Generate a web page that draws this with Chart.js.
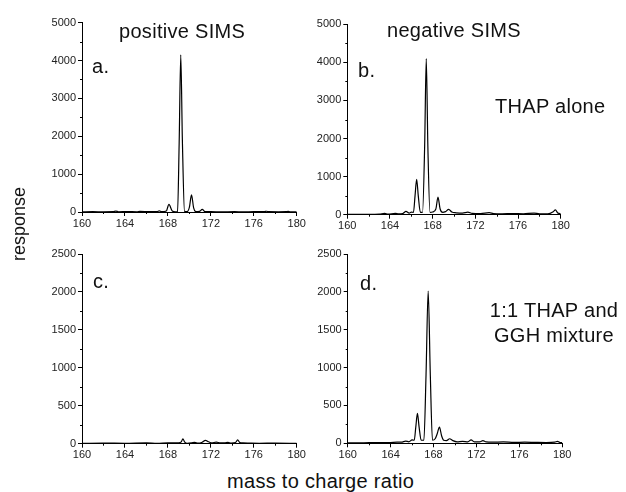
<!DOCTYPE html>
<html>
<head>
<meta charset="utf-8">
<script src="https://cdn.jsdelivr.net/npm/chart.js@4/dist/chart.umd.min.js"></script>
<style>
  body { margin: 0; background: #fff; }
  #wrap { position: relative; width: 626px; height: 492px; overflow: hidden; background: #fff; }
  canvas { position: absolute; }
  .t { position: absolute; font-family: "Liberation Sans", Arial, sans-serif; font-size: 20px; line-height: 20px; color: #111; white-space: nowrap; letter-spacing: 0.3px; }
</style>
</head>
<body>
<div id="wrap">
  <canvas id="pa" width="310" height="235" style="left:0px;top:0px"></canvas>
  <canvas id="pb" width="275" height="238" style="left:300px;top:0px"></canvas>
  <canvas id="pc" width="310" height="227" style="left:0px;top:240px"></canvas>
  <canvas id="pd" width="276" height="227" style="left:300px;top:240px"></canvas>

  <div class="t" style="left:119px;top:21px">positive SIMS</div>
  <div class="t" style="left:387px;top:20px">negative SIMS</div>
  <div class="t" style="left:92px;top:56px">a.</div>
  <div class="t" style="left:358px;top:60px">b.</div>
  <div class="t" style="left:495px;top:96px">THAP alone</div>
  <div class="t" style="left:93px;top:271px">c.</div>
  <div class="t" style="left:360px;top:273px">d.</div>
  <div class="t" style="left:484px;top:300px;width:140px;text-align:center">1:1 THAP and</div>
  <div class="t" style="left:484px;top:325px;width:140px;text-align:center">GGH mixture</div>
  <div class="t" style="left:227px;top:471px">mass to charge ratio</div>
  <div class="t" style="left:-21px;top:215px;width:80px;text-align:center;font-size:18px;line-height:18px;letter-spacing:0;transform:rotate(-90deg)">response</div>
</div>
<script>
// m/z ticks
const mzTicks = [160, 164, 168, 172, 176, 180]

// [m/z, response]
const specA = [[160,5],[161,8],[162,5],[162.9,8],[163.15,25],[163.4,6],[164.2,10],[165.1,5],[165.4,15],[166.3,8],[167,10],[167.2,30],[167.4,8],[167.85,25],[168.1,200],[168.4,30],[168.7,5],[168.9,10],[169.05,1800],[169.2,4150],[169.35,1900],[169.55,15],[169.8,8],[170,120],[170.2,450],[170.4,110],[170.6,10],[170.95,15],[171.2,70],[171.45,10],[172,8],[173,5],[174.2,8],[175,5],[176,8],[177,10],[177.2,20],[177.4,8],[178.3,5],[179,8],[179.2,18],[179.4,6],[180,5]]

const specB = [[160,10],[161,12],[162,10],[163,15],[163.5,35],[163.8,15],[164.5,35],[164.8,20],[165.2,30],[165.5,85],[165.8,40],[166,70],[166.2,60],[166.35,500],[166.5,930],[166.65,500],[166.85,60],[167.05,60],[167.25,1800],[167.4,4100],[167.55,1800],[167.75,60],[168,70],[168.3,150],[168.5,460],[168.7,150],[168.95,60],[169.2,80],[169.5,140],[169.8,70],[170.2,50],[170.8,40],[171.3,65],[171.7,35],[172.5,30],[173.3,55],[173.7,30],[174.5,25],[175.5,30],[176.5,25],[177.5,40],[178,25],[178.8,25],[179.3,80],[179.5,125],[179.75,40],[180,30]]

const specC = [[160,5],[162,8],[164,5],[166,10],[167,5],[168,10],[169,12],[169.25,25],[169.4,65],[169.55,25],[169.8,5],[170.2,10],[170.5,18],[170.8,8],[171.2,20],[171.5,45],[171.8,25],[172.1,10],[172.5,22],[172.9,10],[173.3,12],[173.6,18],[173.9,8],[174.3,15],[174.5,50],[174.7,15],[175,10],[175.5,8],[176.5,5],[178,8],[180,5]]

const specD = [[160,5],[161,5],[162,8],[163,8],[164,10],[164.6,15],[165,15],[165.4,30],[165.7,20],[166,45],[166.2,40],[166.35,220],[166.5,395],[166.65,220],[166.85,40],[167.1,40],[167.3,900],[167.5,2010],[167.7,900],[167.9,40],[168.15,60],[168.35,130],[168.55,215],[168.75,100],[168.95,40],[169.2,35],[169.5,60],[169.8,35],[170.2,20],[170.7,25],[171.2,20],[171.5,45],[171.8,20],[172.3,20],[172.6,35],[172.9,18],[173.5,15],[174.5,18],[175.5,12],[176.5,15],[177.5,12],[178.5,10],[179.3,15],[179.55,25],[179.8,10],[180,8]]

const yTicksTop = [0, 1000, 2000, 3000, 4000, 5000]
const yTicksBottom = [0, 500, 1000, 1500, 2000, 2500]

// little in-between ticks like the original plot
const minorTicks = {
  id: 'minorTicks',
  afterDraw(chart) {
    const ctx = chart.ctx
    const xs = chart.scales.x, ys = chart.scales.y
    const xStep = mzTicks[1] - mzTicks[0]
    const yt = chart.options.plugins.minorTicks.yTicks
    const yStep = yt[1] - yt[0]
    ctx.save()
    ctx.strokeStyle = '#000'
    ctx.lineWidth = 1
    ctx.beginPath()
    for (let v = mzTicks[0] + xStep / 2; v < mzTicks[mzTicks.length - 1]; v += xStep) {
      const px = Math.round(xs.getPixelForValue(v)) + 0.5
      ctx.moveTo(px, ys.bottom)
      ctx.lineTo(px, ys.bottom + 2)
    }
    for (let v = yt[0] + yStep / 2; v < yt[yt.length - 1]; v += yStep) {
      const py = Math.round(ys.getPixelForValue(v)) + 0.5
      ctx.moveTo(xs.left, py)
      ctx.lineTo(xs.left - 2, py)
    }
    ctx.stroke()
    ctx.restore()
  }
}

function makePanel(id, spec, yt, g) {
  const tickFont = { family: '"Liberation Sans", Arial, sans-serif', size: 11 }
  return new Chart(document.getElementById(id), {
    type: 'line',
    data: {
      datasets: [{
        data: spec.map(p => ({ x: p[0], y: p[1] })),
        borderColor: '#000',
        borderWidth: 1.2,
        pointRadius: 0,
        cubicInterpolationMode: 'monotone',
        fill: false
      }]
    },
    options: {
      responsive: false,
      animation: false,
      devicePixelRatio: 1,
      layout: { padding: { left: 0, top: g.top, right: g.right, bottom: 0 } },
      plugins: { legend: { display: false }, tooltip: { enabled: false }, minorTicks: { yTicks: yt } },
      scales: {
        x: {
          type: 'linear',
          min: mzTicks[0],
          max: mzTicks[mzTicks.length - 1],
          afterBuildTicks: s => { s.ticks = mzTicks.map(v => ({ value: v })) },
          afterFit: s => { s.height = g.xh },
          ticks: { color: '#222', font: tickFont, padding: 1, maxRotation: 0, autoSkip: false, callback: v => String(v) },
          grid: { drawOnChartArea: false, tickLength: 4, color: '#000' },
          border: { color: '#000', width: 1 }
        },
        y: {
          min: yt[0],
          max: yt[yt.length - 1],
          afterBuildTicks: s => { s.ticks = yt.map(v => ({ value: v })) },
          afterFit: s => { s.width = g.yw },
          ticks: { color: '#222', font: tickFont, padding: 2, callback: v => String(v) },
          grid: { drawOnChartArea: false, tickLength: 4, color: '#000' },
          border: { color: '#000', width: 1 }
        }
      }
    },
    plugins: [minorTicks]
  })
}

makePanel('pa', specA, yTicksTop, { yw: 82, top: 22.7, right: 13.3, xh: 23 })
makePanel('pb', specB, yTicksTop, { yw: 47.3, top: 24.3, right: 14.3, xh: 23.3 })
makePanel('pc', specC, yTicksBottom, { yw: 82, top: 14, right: 13.3, xh: 23.3 })
makePanel('pd', specD, yTicksBottom, { yw: 47.7, top: 14, right: 13.7, xh: 23.7 })
</script>
</body>
</html>
